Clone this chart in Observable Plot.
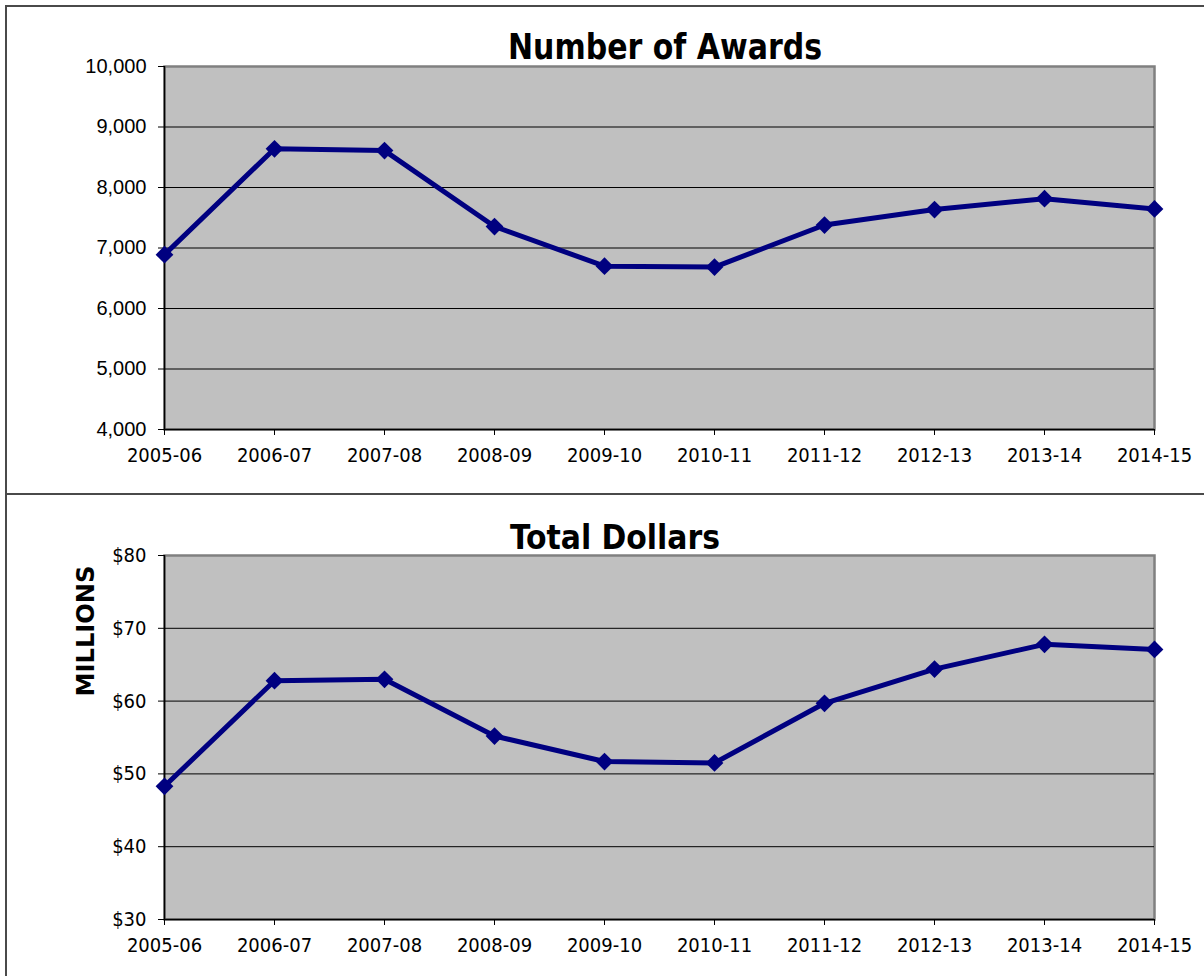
<!DOCTYPE html>
<html>
<head>
<meta charset="utf-8">
<script src="https://cdn.jsdelivr.net/npm/d3@7"></script>
<script src="https://cdn.jsdelivr.net/npm/@observablehq/plot@0.6"></script>
<style>
  html, body { margin: 0; padding: 0; background: #fff; }
  body { width: 1204px; height: 976px; position: relative; overflow: hidden; }
  .panel { position: absolute; left: 0; width: 1204px; }
  .line { position: absolute; background: #4a4a4a; }
  #overlay { position: absolute; left: 0; top: 0; pointer-events: none; }
</style>
</head>
<body>
<div class="line" style="left:5px;top:5px;width:1199px;height:1.5px"></div>
<div class="line" style="left:5px;top:5px;width:1.5px;height:971px"></div>
<div class="line" style="left:5px;top:493px;width:1199px;height:1.5px"></div>
<div id="top" class="panel" style="top:0px"></div>
<div id="bottom" class="panel" style="top:494px"></div>
<svg id="overlay" width="1204" height="976" xmlns="http://www.w3.org/2000/svg"></svg>
<script>
// ---- data ----
const categories = ["2005-06","2006-07","2007-08","2008-09","2009-10","2010-11","2011-12","2012-13","2013-14","2014-15"];
const awards = [6890, 8640, 8610, 7355, 6700, 6685, 7380, 7635, 7815, 7645];
const dollars = [48.3, 62.8, 63.0, 55.2, 51.7, 51.5, 59.7, 64.4, 67.8, 67.1];
const awardTicks = [4000, 5000, 6000, 7000, 8000, 9000, 10000];
const dollarTicks = [30, 40, 50, 60, 70, 80];
const titles = ["Number of Awards", "Total Dollars"];
const yAxisLabel = "MILLIONS";

const NAVY = "#000080";
const condensed = "'DejaVu Sans Condensed', 'DejaVu Sans', sans-serif";
const arial = "'Liberation Sans', Arial, sans-serif";

function chart({values, ticks, tickFormat, height, marginTop, marginBottom, yFont}) {
  const rows = categories.map((c, i) => ({cat: c, v: values[i]}));
  const lo = ticks[0], hi = ticks[ticks.length - 1];
  return Plot.plot({
    width: 1204,
    height,
    marginLeft: 164,
    marginRight: 50,
    marginTop,
    marginBottom,
    style: {background: "transparent", color: "#000", fontSize: "20px", fontFamily: condensed, overflow: "visible"},
    x: {type: "point", domain: categories, padding: 0},
    y: {domain: [lo, hi]},
    marks: [
      Plot.frame({fill: "#c0c0c0", stroke: "#808080", strokeWidth: 2.5}),
      Plot.ruleY(ticks.slice(1, -1), {stroke: "#000", strokeWidth: 1}),
      Plot.ruleY([lo], {stroke: "#000", strokeWidth: 1.5}),
      Plot.ruleX([categories[0]], {stroke: "#000", strokeWidth: 1.5}),
      Plot.axisY(ticks, {tickSize: 6, tickPadding: 12, tickFormat, label: null, fontSize: 20, fontFamily: yFont, stroke: "#000"}),
      Plot.axisX({tickSize: 6, tickPadding: 12, label: null, fontSize: 20, fontFamily: condensed}),
      Plot.line(rows, {x: "cat", y: "v", stroke: NAVY, strokeWidth: 5, strokeLinejoin: "round"}),
      Plot.dot(rows, {x: "cat", y: "v", symbol: "diamond2", r: 8, fill: NAVY, stroke: "none"})
    ]
  });
}

document.getElementById("top").append(chart({
  values: awards, ticks: awardTicks, tickFormat: d3.format(","),
  height: 494, marginTop: 66, marginBottom: 65, yFont: arial
}));
document.getElementById("bottom").append(chart({
  values: dollars, ticks: dollarTicks, tickFormat: d => "$" + d,
  height: 482, marginTop: 61, marginBottom: 57, yFont: condensed
}));

// titles and rotated axis label
const ov = d3.select("#overlay");
ov.append("text").attr("x", 508).attr("y", 59)
  .attr("textLength", 314).attr("lengthAdjust", "spacingAndGlyphs")
  .style("font-family", condensed).style("font-weight", "bold").style("font-size", "35px")
  .text(titles[0]);
ov.append("text").attr("x", 510).attr("y", 549)
  .attr("textLength", 210).attr("lengthAdjust", "spacingAndGlyphs")
  .style("font-family", condensed).style("font-weight", "bold").style("font-size", "34px")
  .text(titles[1]);
ov.append("text").attr("transform", "translate(94,631) rotate(-90)")
  .attr("text-anchor", "middle")
  .attr("textLength", 131).attr("lengthAdjust", "spacingAndGlyphs")
  .style("font-family", condensed).style("font-weight", "bold").style("font-size", "25px")
  .text(yAxisLabel);
</script>
</body>
</html>
